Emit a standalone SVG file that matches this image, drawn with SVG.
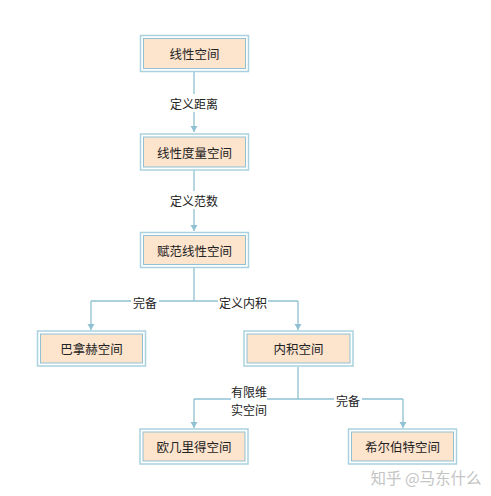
<svg xmlns="http://www.w3.org/2000/svg" width="491" height="496" viewBox="0 0 491 496">
<style>
.outer{fill:#ffffff;stroke:#a9d2de;stroke-width:1.5}
.inner{fill:#fde4cd;stroke:#8fc1d3;stroke-width:1}
.nt{font-family:"Noto Sans CJK SC",sans-serif;font-size:12.5px;fill:#222;text-anchor:middle;dominant-baseline:central}
.lt{font-family:"Noto Sans CJK SC",sans-serif;font-size:12px;fill:#222;text-anchor:middle;dominant-baseline:central}
.ln{fill:none;stroke:#8fc1d3;stroke-width:1.3}
.bg{fill:#ffffff}
</style>
<defs>
<marker id="ah" markerWidth="8" markerHeight="8" refX="6" refY="3.5" orient="auto" markerUnits="userSpaceOnUse">
<path d="M0,0 L6,3.5 L0,7 Z" fill="#8fc1d3"/>
</marker>
</defs>
<rect width="491" height="496" fill="#ffffff"/>
<g id="connectors">
<path class="ln" d="M194,72 V132" marker-end="url(#ah)"/>
<path class="ln" d="M194,170 V231" marker-end="url(#ah)"/>
<path class="ln" d="M194,268 V301"/>
<path class="ln" d="M91,301 H298"/>
<path class="ln" d="M91,301 V330" marker-end="url(#ah)"/>
<path class="ln" d="M298,301 V330" marker-end="url(#ah)"/>
<path class="ln" d="M298,367 V399"/>
<path class="ln" d="M194,399 H403"/>
<path class="ln" d="M194,399 V428" marker-end="url(#ah)"/>
<path class="ln" d="M403,399 V428" marker-end="url(#ah)"/>
<rect class="bg" x="168" y="94" width="52" height="18"/>
<text class="lt" x="194" y="103">定义距离</text>
<rect class="bg" x="168" y="191" width="52" height="18"/>
<text class="lt" x="194" y="200">定义范数</text>
<rect class="bg" x="131" y="294" width="28" height="16"/>
<text class="lt" x="145" y="302">完备</text>
<rect class="bg" x="218" y="294" width="50" height="16"/>
<text class="lt" x="243" y="302">定义内积</text>
<rect class="bg" x="231" y="384" width="36" height="32"/>
<text class="lt" x="249" y="391.5">有限维</text>
<text class="lt" x="249" y="409">实空间</text>
<rect class="bg" x="334" y="392" width="28" height="16"/>
<text class="lt" x="348" y="400">完备</text>
</g>
<g id="n1">
<rect class="outer" x="140.5" y="35.5" width="108" height="36"/>
<rect class="inner" x="143.5" y="38.5" width="102" height="30"/>
<text class="nt" x="194.5" y="53.5">线性空间</text>
</g>
<g id="n2">
<rect class="outer" x="140.5" y="134" width="108" height="36"/>
<rect class="inner" x="143.5" y="137" width="102" height="30"/>
<text class="nt" x="194.5" y="152">线性度量空间</text>
</g>
<g id="n3">
<rect class="outer" x="140.5" y="232.5" width="108" height="35"/>
<rect class="inner" x="143.5" y="235.5" width="102" height="29"/>
<text class="nt" x="194.5" y="250">赋范线性空间</text>
</g>
<g id="n4">
<rect class="outer" x="37.5" y="331" width="108" height="35"/>
<rect class="inner" x="40.5" y="334" width="102" height="29"/>
<text class="nt" x="91.5" y="348.5">巴拿赫空间</text>
</g>
<g id="n5">
<rect class="outer" x="244" y="331" width="109" height="35"/>
<rect class="inner" x="247" y="334" width="103" height="29"/>
<text class="nt" x="298.5" y="348.5">内积空间</text>
</g>
<g id="n6">
<rect class="outer" x="140" y="429" width="108" height="35"/>
<rect class="inner" x="143" y="432" width="102" height="29"/>
<text class="nt" x="194" y="446.5">欧几里得空间</text>
</g>
<g id="n7">
<rect class="outer" x="348.5" y="429" width="108" height="35"/>
<rect class="inner" x="351.5" y="432" width="102" height="29"/>
<text class="nt" x="402.5" y="446.5">希尔伯特空间</text>
</g>
<text x="426" y="477" font-family="Noto Sans CJK SC,sans-serif" font-size="15.5" fill="#c4c4c4" text-anchor="middle" dominant-baseline="central">知乎 @马东什么</text>
</svg>
